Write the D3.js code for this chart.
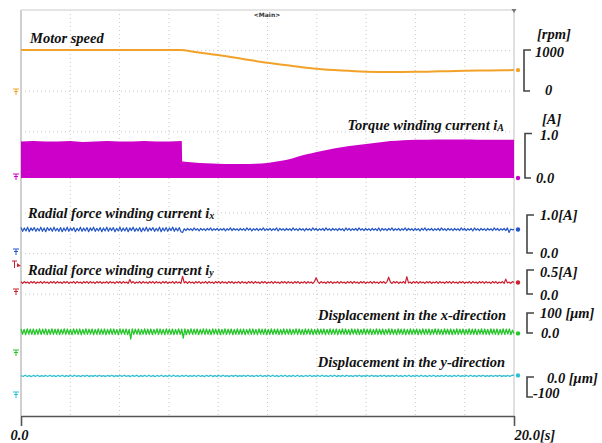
<!DOCTYPE html>
<html>
<head>
<meta charset="utf-8">
<script src="https://cdn.jsdelivr.net/npm/d3@7"></script>
<style>
html, body { margin: 0; padding: 0; background: #fff; }
svg { display: block; }
</style>
</head>
<body>
<svg id="chart" width="602" height="443"></svg>
<script>
// ---- time axis ----
const timeDomain = [0, 20];          // seconds
const timeTickLabels = ["0.0", "20.0[s]"];

// ---- motor speed [rpm] ----
const speedTime  = [0, 2, 4, 6.5, 7.0, 7.5, 8.0, 9.0, 10.0, 11.0, 12.0, 13.0, 14.0, 15.0, 16.0, 17.0, 18.0, 19.0, 20.0];
const speedValue = [1000, 1000, 1000, 1000, 955, 915, 878, 783, 690, 612, 540, 497, 472, 466, 468, 480, 494, 503, 510];

// ---- torque winding current iA, upper envelope [A] ----
const iaTime = [0, 0.5, 1.0, 1.5, 2.0, 2.5, 3.0, 3.5, 4.0, 4.5, 5.0, 5.5, 6.0, 6.52, 6.55, 7.0, 7.5, 8.0, 8.5, 9.0, 9.5, 10.0, 10.5, 11.0, 11.5, 12.0, 12.5, 13.0, 13.5, 14.0, 14.5, 15.0, 15.5, 16.0, 16.5, 17.0, 17.5, 18.0, 18.5, 19.0, 19.5, 20.0];
const iaPeak = [0.82, 0.83, 0.82, 0.82, 0.83, 0.81, 0.82, 0.83, 0.82, 0.82, 0.83, 0.82, 0.82, 0.83, 0.37, 0.35, 0.33, 0.32, 0.315, 0.315, 0.32, 0.335, 0.38, 0.44, 0.52, 0.585, 0.64, 0.69, 0.73, 0.765, 0.80, 0.83, 0.85, 0.86, 0.86, 0.865, 0.865, 0.865, 0.86, 0.86, 0.86, 0.86];

// ---- radial force winding current ix [A], sampled evenly over 0..20 s ----
const ixValue = [
  0.67,0.57,0.66,0.58,0.68,0.56,0.66,0.59,0.67,0.57,
  0.65,0.58,0.68,0.57,0.66,0.56,0.67,0.59,0.66,0.57,
  0.68,0.58,0.65,0.57,0.67,0.56,0.66,0.58,0.68,0.57,
  0.66,0.59,0.67,0.56,0.65,0.58,0.68,0.57,0.66,0.58,
  0.67,0.56,0.66,0.59,0.68,0.57,0.65,0.58,0.67,0.56,
  0.66,0.58,0.68,0.57,0.66,0.59,0.67,0.56,0.65,0.58,
  0.68,0.57,0.66,0.58,0.67,0.56,0.66,0.59,0.68,0.57,
  0.65,0.58,0.67,0.56,0.66,0.58,0.68,0.57,0.66,0.59,
  0.67,0.57,0.65,0.58,0.68,0.56,0.66,0.58,0.67,0.57,
  0.66,0.59,0.68,0.57,0.66,0.58,0.67,0.56,0.54,0.64,
  0.59,0.65,0.60,0.64,0.59,0.66,0.60,0.64,0.58,0.65,
  0.60,0.64,0.59,0.65,0.60,0.66,0.59,0.64,0.60,0.65,
  0.59,0.64,0.60,0.65,0.58,0.64,0.60,0.66,0.59,0.65,
  0.60,0.64,0.59,0.65,0.60,0.64,0.59,0.66,0.60,0.65,
  0.58,0.64,0.60,0.65,0.59,0.64,0.60,0.66,0.59,0.64,
  0.60,0.65,0.59,0.64,0.60,0.66,0.58,0.65,0.60,0.64,
  0.59,0.65,0.60,0.64,0.59,0.66,0.60,0.64,0.59,0.65,
  0.60,0.64,0.58,0.65,0.60,0.64,0.59,0.66,0.60,0.65,
  0.59,0.64,0.60,0.65,0.59,0.66,0.60,0.64,0.59,0.65,
  0.60,0.64,0.59,0.65,0.60,0.64,0.58,0.66,0.60,0.65,
  0.59,0.64,0.60,0.65,0.59,0.66,0.60,0.64,0.59,0.65,
  0.60,0.64,0.59,0.65,0.60,0.64,0.59,0.66,0.58,0.65,
  0.60,0.64,0.59,0.65,0.60,0.66,0.59,0.64,0.60,0.65,
  0.59,0.64,0.60,0.66,0.59,0.65,0.60,0.64,0.59,0.65,
  0.60,0.64,0.58,0.65,0.60,0.66,0.59,0.64,0.60,0.65,
  0.59,0.64,0.60,0.65,0.59,0.66,0.60,0.64,0.59,0.65,
  0.60,0.64,0.59,0.65,0.60,0.64,0.59,0.66,0.60,0.65,
  0.59,0.64,0.60,0.65,0.58,0.66,0.60,0.64,0.59,0.65,
  0.60,0.64,0.59,0.65,0.60,0.64,0.59,0.66,0.60,0.65,
  0.59,0.64,0.60,0.65,0.59,0.66,0.54,0.63,0.61,0.62
];

// ---- radial force winding current iy [A] ----
const iyValue = [
  0.26,0.22,0.26,0.23,0.25,0.22,0.26,0.23,0.26,0.22,
  0.25,0.23,0.26,0.22,0.26,0.23,0.25,0.22,0.26,0.23,
  0.26,0.22,0.26,0.23,0.25,0.22,0.26,0.23,0.26,0.22,
  0.25,0.23,0.26,0.22,0.26,0.23,0.25,0.22,0.26,0.23,
  0.26,0.22,0.26,0.23,0.25,0.22,0.26,0.23,0.26,0.22,
  0.25,0.23,0.26,0.22,0.26,0.23,0.25,0.22,0.26,0.23,
  0.26,0.22,0.26,0.23,0.25,0.22,0.30,0.23,0.26,0.22,
  0.25,0.23,0.26,0.22,0.26,0.23,0.25,0.22,0.26,0.23,
  0.26,0.22,0.26,0.23,0.25,0.22,0.26,0.23,0.26,0.22,
  0.25,0.23,0.26,0.22,0.26,0.23,0.25,0.22,0.37,0.23,
  0.26,0.22,0.26,0.23,0.25,0.22,0.26,0.23,0.26,0.22,
  0.25,0.23,0.26,0.22,0.26,0.23,0.25,0.22,0.26,0.23,
  0.26,0.22,0.26,0.23,0.25,0.22,0.26,0.23,0.26,0.22,
  0.25,0.23,0.26,0.22,0.26,0.23,0.25,0.22,0.26,0.23,
  0.26,0.22,0.26,0.23,0.25,0.22,0.26,0.23,0.26,0.22,
  0.25,0.23,0.26,0.22,0.26,0.23,0.25,0.22,0.26,0.23,
  0.26,0.22,0.26,0.23,0.25,0.22,0.26,0.23,0.26,0.22,
  0.25,0.23,0.26,0.22,0.26,0.23,0.25,0.22,0.26,0.34,
  0.26,0.22,0.26,0.23,0.25,0.22,0.26,0.23,0.26,0.22,
  0.25,0.23,0.26,0.22,0.26,0.23,0.25,0.22,0.26,0.23,
  0.26,0.22,0.26,0.23,0.25,0.22,0.26,0.23,0.26,0.22,
  0.25,0.23,0.26,0.22,0.26,0.23,0.25,0.22,0.26,0.23,
  0.26,0.22,0.26,0.35,0.25,0.22,0.26,0.23,0.26,0.22,
  0.25,0.23,0.26,0.22,0.36,0.23,0.25,0.22,0.26,0.23,
  0.26,0.22,0.26,0.23,0.25,0.22,0.26,0.23,0.26,0.22,
  0.25,0.23,0.26,0.22,0.26,0.23,0.25,0.22,0.26,0.23,
  0.26,0.22,0.26,0.23,0.25,0.22,0.26,0.23,0.26,0.22,
  0.25,0.23,0.26,0.22,0.26,0.23,0.25,0.22,0.26,0.23,
  0.26,0.22,0.26,0.23,0.25,0.22,0.26,0.23,0.26,0.22,
  0.25,0.23,0.26,0.22,0.31,0.23,0.25,0.22,0.26,0.24
];

// ---- displacement in the x-direction [um] ----
const dxValue = [
  20,-6,18,-8,21,-5,19,-7,20,-8,
  18,-6,21,-7,19,-5,20,-8,18,-6,
  21,-7,19,-6,20,-8,18,-5,21,-7,
  20,-6,18,-8,21,-5,19,-7,20,-8,
  18,-6,21,-7,19,-5,20,-8,18,-6,
  21,-7,19,-6,20,-8,18,-5,21,-7,
  20,-6,18,-8,21,-5,19,-7,20,-8,
  18,-30,21,-7,19,-5,20,-8,18,-6,
  21,-7,19,-6,20,-8,18,-5,21,-7,
  20,-6,18,-8,21,-5,19,-7,20,-8,
  18,-6,21,-7,19,-26,20,-8,18,-6,
  21,-7,19,-6,20,-8,18,-5,21,-7,
  20,-6,18,-8,21,-5,19,-7,20,-8,
  18,-6,21,-7,19,-5,20,-8,18,-6,
  21,-7,19,-6,20,-8,18,-5,21,-7,
  20,-6,18,-8,21,-5,19,-7,20,-8,
  18,-6,21,-7,19,-5,20,-8,18,-6,
  21,-7,19,-6,20,-8,18,-5,21,-7,
  20,-6,18,-8,21,-5,19,-7,20,-8,
  18,-6,21,-7,19,-5,20,-8,18,-6,
  21,-7,19,-6,20,-8,18,-5,21,-7,
  20,-6,18,-8,21,-5,19,-7,20,-8,
  18,-6,21,-7,19,-5,20,-8,18,-6,
  21,-7,19,-6,20,-8,18,-5,21,-7,
  20,-6,18,-8,21,-5,19,-7,20,-8,
  18,-6,21,-7,19,-5,20,-8,18,-6,
  21,-7,19,-6,20,-8,18,-5,21,-7,
  20,-6,18,-8,21,-5,19,-7,20,-8,
  18,-6,21,-7,19,-5,20,-8,18,-6,
  21,-7,19,-6,20,-8,18,-5,21,-7,
  20,-6,18,-8,21,-5,19,-7,20,-8,
  18,-6,21,-7,19,-5,20,-8,14,-2
];

// ---- displacement in the y-direction [um] ----
const dyValue = [
  8,2,9,3,7,2,8,3,9,2,
  7,3,8,2,9,3,7,2,8,3,
  9,2,7,3,8,2,9,3,7,2,
  8,3,9,2,7,3,8,2,9,3,
  7,2,8,3,9,2,7,3,8,2,
  9,3,7,2,8,3,9,2,7,3,
  8,2,9,3,7,2,8,3,9,2,
  7,3,8,2,9,3,7,2,8,3,
  9,2,7,3,8,2,9,3,7,2,
  8,3,9,2,7,3,8,2,9,3,
  7,2,8,3,9,2,7,3,8,2,
  9,3,7,2,8,3,9,2,7,3,
  8,2,9,3,7,2,8,3,9,2,
  7,3,8,2,9,3,7,2,8,3,
  9,2,7,3,8,2,9,3,7,2,
  8,3,9,2,7,3,8,2,9,3,
  7,2,8,3,9,2,7,3,8,2,
  9,3,7,2,8,3,9,2,7,3,
  8,2,9,3,7,2,8,3,9,2,
  7,3,8,2,9,3,7,2,8,3,
  9,2,7,3,8,2,9,3,7,2,
  8,3,9,2,7,3,8,2,9,3,
  7,2,8,3,9,2,7,3,8,2,
  8,3,9,2,7,3,8,2,9,8
];

// ---- layout ----
const serif = '"Liberation Serif", "Times New Roman", Times, serif';
const svg = d3.select("#chart");
const plot = { left: 21, right: 514, top: 10, bottom: 416 };
const x = d3.scaleLinear().domain(timeDomain).range([plot.left, plot.right]);

// evenly sampled record -> time of each sample
const sampleTimes = arr => arr.map((_, i) => timeDomain[0] + i * (timeDomain[1] - timeDomain[0]) / (arr.length - 1));

// one vertical scale per channel, placed in its own band of the screen
const channels = [
  { key: "speed", color: "#f2a22a", y: d3.scaleLinear().domain([0, 1000]).range([91, 50]), gnd: 92, bx: 524,
    marks: [{ t: "[rpm]", x: 537, y: 39 }, { t: "1000", x: 535, y: 57 }, { t: "0", x: 545, y: 95 }] },
  { key: "ia", color: "#cc00c8", y: d3.scaleLinear().domain([0, 1]).range([178, 133.5]), gnd: 177, bx: 525,
    marks: [{ t: "[A]", x: 542, y: 124 }, { t: "1.0", x: 540, y: 140 }, { t: "0.0", x: 536, y: 183 }] },
  { key: "ix", color: "#2456c8", y: d3.scaleLinear().domain([0, 1]).range([253, 215]), gnd: 252, bx: 527,
    marks: [{ t: "1.0[A]", x: 540, y: 220 }, { t: "0.0", x: 540, y: 258 }] },
  { key: "iy", color: "#cc2030", y: d3.scaleLinear().domain([0, 0.5]).range([294, 270]), gnd: 292, bx: 527,
    marks: [{ t: "0.5[A]", x: 540, y: 277 }, { t: "0.0", x: 540, y: 300 }] },
  { key: "dx", color: "#26c52a", y: d3.scaleLinear().domain([0, 100]).range([333, 313]), gnd: 353, bx: 527,
    marks: [{ t: "100 [μm]", x: 540, y: 318 }, { t: "0.0", x: 541, y: 338 }] },
  { key: "dy", color: "#2cc0d2", y: d3.scaleLinear().domain([-100, 0]).range([397, 377]), gnd: 395, bx: 527,
    marks: [{ t: "0.0 [μm]", x: 547, y: 383 }, { t: "-100", x: 533, y: 398 }] }
];
const ch = Object.fromEntries(channels.map(c => [c.key, c]));

// ---- frame & dotted grid ----
const grid = svg.append("g");
d3.range(1, 10).forEach(k => {
  const gx = x(timeDomain[0] + k * (timeDomain[1] - timeDomain[0]) / 10);
  grid.append("line").attr("x1", gx).attr("x2", gx).attr("y1", plot.top).attr("y2", plot.bottom)
    .attr("stroke", "#c8c8c8").attr("stroke-width", 1).attr("stroke-dasharray", "1,3");
  const gy = plot.top + k * (plot.bottom - plot.top) / 10;
  grid.append("line").attr("x1", plot.left).attr("x2", plot.right).attr("y1", gy).attr("y2", gy)
    .attr("stroke", "#c8c8c8").attr("stroke-width", 1).attr("stroke-dasharray", "1,3");
});
svg.append("line").attr("x1", plot.left).attr("x2", plot.right).attr("y1", plot.top).attr("y2", plot.top)
  .attr("stroke", "#dcdcdc").attr("stroke-width", 1.5);
svg.append("line").attr("x1", plot.left).attr("x2", plot.left).attr("y1", plot.top).attr("y2", plot.bottom)
  .attr("stroke", "#cfcfcf").attr("stroke-width", 2);
svg.append("line").attr("x1", plot.right).attr("x2", plot.right).attr("y1", plot.top).attr("y2", plot.bottom)
  .attr("stroke", "#d6d6d6").attr("stroke-width", 1.5);
// trigger position marker on the top edge
svg.append("path").attr("d", `M${plot.right - 2.5},${plot.top - 1}L${plot.right + 2.5},${plot.top - 1}L${plot.right},${plot.top + 3}Z`)
  .attr("fill", "#777");
svg.append("text").attr("x", 267).attr("y", 17).attr("text-anchor", "middle")
  .style("font-family", "DejaVu Sans, sans-serif").style("font-size", "6px").style("font-weight", "bold")
  .attr("fill", "#333").text("<Main>");

// ---- traces ----
const traces = svg.append("g");

// torque current envelope as a filled band
traces.append("path")
  .datum(iaTime.map((t, i) => ({ t, v: iaPeak[i] })))
  .attr("fill", ch.ia.color)
  .attr("d", d3.area().x(d => x(d.t)).y0(ch.ia.y(0)).y1(d => ch.ia.y(d.v)).curve(d3.curveMonotoneX));

const lineOf = (c, curve) => d3.line().x(d => x(d.t)).y(d => c.y(d.v)).curve(curve || d3.curveLinear);

traces.append("path")
  .datum(speedTime.map((t, i) => ({ t, v: speedValue[i] })))
  .attr("fill", "none").attr("stroke", ch.speed.color).attr("stroke-width", 2)
  .attr("d", lineOf(ch.speed, d3.curveMonotoneX));

const noisy = [
  { c: ch.ix, v: ixValue, w: 1.2 },
  { c: ch.iy, v: iyValue, w: 1.2 },
  { c: ch.dx, v: dxValue, w: 1.3 },
  { c: ch.dy, v: dyValue, w: 1.2 }
];
noisy.forEach(n => {
  const ts = sampleTimes(n.v);
  traces.append("path")
    .datum(ts.map((t, i) => ({ t, v: n.v[i] })))
    .attr("fill", "none").attr("stroke", n.c.color).attr("stroke-width", n.w)
    .attr("stroke-linejoin", "round")
    .attr("d", lineOf(n.c));
});

// end-of-record dots on the right edge
const lastValues = {
  speed: speedValue[speedValue.length - 1], ia: 0,
  ix: ixValue[ixValue.length - 1], iy: iyValue[iyValue.length - 1],
  dx: dxValue[dxValue.length - 1], dy: dyValue[dyValue.length - 1]
};
channels.forEach(c => {
  svg.append("circle").attr("cx", plot.right + 4).attr("cy", c.y(lastValues[c.key]))
    .attr("r", 2.2).attr("fill", c.color);
});

// ---- ground-level markers on the left ----
channels.forEach(c => {
  const gx = 16, gy = c.gnd;
  svg.append("path")
    .attr("d", `M${gx - 3},${gy - 3}H${gx + 3}M${gx - 2},${gy - 0.5}H${gx + 2}M${gx},${gy - 3}V${gy + 3}`)
    .attr("stroke", c.color).attr("stroke-width", 1).attr("fill", "none");
});
// trigger-level marker on the iy channel
svg.append("path").attr("d", "M12,261H17M14.5,261V268").attr("stroke", ch.iy.color).attr("stroke-width", 1).attr("fill", "none");
svg.append("path").attr("d", "M17,263L21,266L17,267Z").attr("fill", ch.iy.color);

// ---- channel brackets and scale labels on the right ----
function label(txt, px, py, size) {
  return svg.append("text").attr("x", px).attr("y", py)
    .style("font-family", serif).style("font-weight", "bold").style("font-style", "italic")
    .style("font-size", size + "px").attr("fill", "#111").text(txt);
}
channels.forEach(c => {
  const [lo, hi] = c.y.domain();
  const yTop = c.y(hi), yBot = c.y(lo);
  svg.append("path")
    .attr("d", `M${c.bx + 7},${yTop}H${c.bx}V${yBot}H${c.bx + 6}`)
    .attr("fill", "none").attr("stroke", "#444").attr("stroke-width", 1.6);
  c.marks.forEach(m => label(m.t, m.x, m.y, 14.5));
});

// ---- channel titles ----
function title(txt, sub, px, py, anchor) {
  const t = label("", px, py, 14.5).attr("text-anchor", anchor);
  t.append("tspan").text(txt);
  if (sub) t.append("tspan").style("font-size", "10px").attr("dy", 1).text(sub);
}
title("Motor speed", "", 30, 43, "start");
title("Torque winding current i", "A", 504, 130, "end");
title("Radial force winding current i", "x", 28, 218, "start");
title("Radial force winding current i", "y", 28, 275, "start");
title("Displacement in the x-direction", "", 506, 320, "end");
title("Displacement in the y-direction", "", 505, 367, "end");

// ---- time axis ----
const axis = d3.axisBottom(x).tickValues(timeDomain).tickSize(10).tickSizeOuter(0)
  .tickFormat((d, i) => timeTickLabels[i]);
const ax = svg.append("g").attr("transform", `translate(0,${plot.bottom})`).call(axis);
ax.select(".domain").attr("stroke", "#555").attr("stroke-width", 1.6);
ax.selectAll(".tick line").attr("stroke", "#555").attr("stroke-width", 1.6);
ax.selectAll(".tick text")
  .style("font-family", serif).style("font-weight", "bold").style("font-style", "italic")
  .style("font-size", "14.5px").attr("fill", "#111")
  .attr("y", 14)
  .attr("text-anchor", (d, i) => i === 0 ? "middle" : "start")
  .attr("dx", (d, i) => i === 0 ? -2 : 0);
</script>
</body>
</html>
